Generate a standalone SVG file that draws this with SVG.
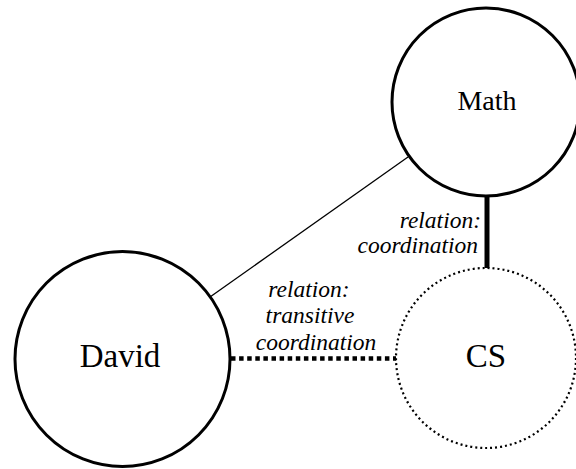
<svg xmlns="http://www.w3.org/2000/svg" width="576" height="469" viewBox="0 0 576 469">
  <style>
    .node { fill: #fff; stroke: #000; stroke-width: 3; }
    .node.dotted { stroke-width: 2.2; stroke-dasharray: 2 3; }
    .name { font-family: "Liberation Serif", "Times New Roman", serif; text-anchor: middle; fill: #000; }
    .rel { font-family: "Liberation Serif", "Times New Roman", serif; font-style: italic; font-size: 23.5px; fill: #000; }
  </style>
  <rect width="576" height="469" fill="#fff"/>

  <!-- connectors -->
  <g id="edges" fill="none" stroke="#000">
    <line id="david-math" x1="210" y1="297" x2="408" y2="157" stroke-width="1.3"/>
    <line id="math-cs" x1="487" y1="196" x2="487" y2="269" stroke-width="5"/>
    <line id="david-cs" x1="231" y1="358.5" x2="396" y2="358.5" stroke-width="4.5" stroke-dasharray="4.5 3.6"/>
  </g>

  <!-- edge labels -->
  <g id="labels">
    <text class="rel" text-anchor="end"><tspan x="481" y="228">relation:</tspan><tspan x="478" y="253">coordination</tspan></text>
    <text class="rel" text-anchor="middle"><tspan x="309" y="297">relation:</tspan><tspan x="310" y="323">transitive</tspan><tspan x="316" y="350">coordination</tspan></text>
  </g>

  <g id="math">
    <circle class="node" cx="486" cy="102" r="94"/>
    <text class="name" x="487" y="110" font-size="28">Math</text>
  </g>

  <g id="cs">
    <circle class="node dotted" cx="486" cy="358" r="90"/>
    <text class="name" x="486" y="367" font-size="33">CS</text>
  </g>

  <g id="david">
    <circle class="node" cx="122.5" cy="359" r="107.5"/>
    <text class="name" x="120" y="367" font-size="33">David</text>
  </g>
</svg>
